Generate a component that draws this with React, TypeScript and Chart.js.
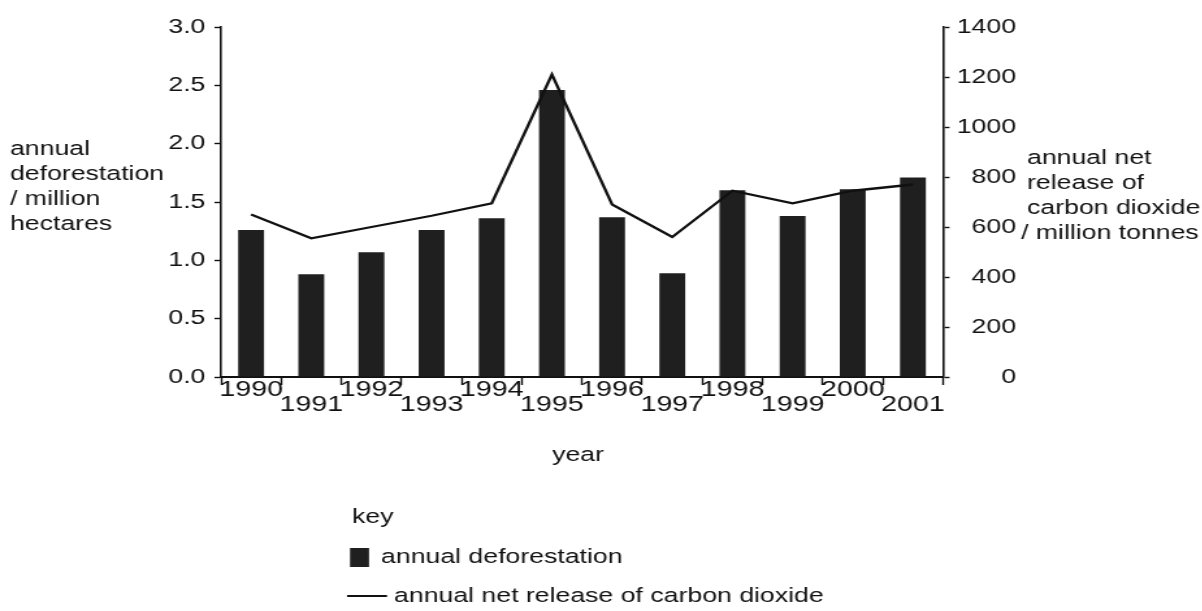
import React, { useEffect, useRef } from 'react';
import { Chart, registerables } from 'chart.js';

Chart.register(...registerables);

// ---- data ----
const years = ['1990', '1991', '1992', '1993', '1994', '1995', '1996', '1997', '1998', '1999', '2000', '2001'];
const deforestation = [1.26, 0.88, 1.07, 1.26, 1.36, 2.46, 1.37, 0.89, 1.6, 1.38, 1.61, 1.71];
const carbonRelease = [650, 555, 600, 645, 695, 1210, 690, 560, 745, 695, 745, 770];
const seriesLabels = ['annual deforestation', 'annual net release of carbon dioxide'];
const leftTitle = ['annual', 'deforestation', '/ million', 'hectares'];
const rightTitle = ['annual net', 'release of', 'carbon dioxide', '/ million tonnes'];
const xTitle = 'year';
const keyTitle = 'key';

// ---- layout / style ----
const S = 1.3; // horizontal stretch of the scanned figure
const W = 924;
const H = 611;
const INK = '#111111';
const BAR = '#1f1f1f';
const FONT = "'Liberation Sans', Arial, Helvetica, sans-serif";
const AREA_LEFT = 221 / S;
const AREA_RIGHT = 943 / S;
const RIGHT_LABEL_EDGE = 1016 / S;
const AREA_TOP = 27;
const AREA_BOTTOM = 377;

export default function App() {
  const ref = useRef<HTMLCanvasElement>(null);

  useEffect(() => {
    if (!ref.current) return;
    Chart.defaults.font.family = FONT;
    Chart.defaults.color = INK;

    const annotate = {
      id: 'annotate',
      afterDraw(chart: any) {
        const ctx = chart.ctx as CanvasRenderingContext2D;
        ctx.save();
        ctx.fillStyle = INK;
        ctx.font = `20.5px ${FONT}`;
        ctx.textBaseline = 'middle';
        ctx.textAlign = 'left';
        leftTitle.forEach((t, i) => ctx.fillText(t, 10 / S, 149 + i * 25));
        rightTitle.forEach((t, i) => {
          if (i === rightTitle.length - 1) {
            ctx.fillText(t, 1021 / S, 158 + i * 25, (1199 - 1021) / S);
          } else {
            ctx.fillText(t, 1027 / S, 158 + i * 25);
          }
        });
        ctx.textAlign = 'center';
        ctx.fillText(xTitle, 578 / S, 455);
        // key
        ctx.textAlign = 'left';
        ctx.fillText(keyTitle, 352 / S, 517);
        const ds0 = chart.data.datasets[0];
        const ds1 = chart.data.datasets[1];
        ctx.fillStyle = ds0.backgroundColor;
        ctx.fillRect(350 / S, 548, 19 / S, 19);
        ctx.fillStyle = INK;
        ctx.fillText(ds0.label, 381 / S, 557);
        ctx.strokeStyle = ds1.borderColor;
        ctx.lineWidth = 2;
        ctx.beginPath();
        ctx.moveTo(347 / S, 596);
        ctx.lineTo(387 / S, 596);
        ctx.stroke();
        ctx.fillText(ds1.label, 394 / S, 596);
        ctx.restore();
      },
    };

    const chart = new Chart(ref.current, {
      type: 'bar',
      data: {
        labels: years,
        datasets: [
          {
            type: 'bar',
            label: seriesLabels[0],
            data: deforestation,
            backgroundColor: BAR,
            borderWidth: 0,
            barPercentage: 0.43,
            categoryPercentage: 1,
            yAxisID: 'y',
            order: 2,
          },
          {
            type: 'line',
            label: seriesLabels[1],
            data: carbonRelease,
            borderColor: INK,
            backgroundColor: INK,
            borderWidth: 2.3,
            pointRadius: 0,
            tension: 0,
            fill: false,
            yAxisID: 'y1',
            order: 1,
          },
        ],
      },
      options: {
        animation: false,
        responsive: true,
        maintainAspectRatio: false,
        layout: { padding: { top: AREA_TOP, left: 0, right: W - RIGHT_LABEL_EDGE, bottom: 0 } },
        plugins: {
          legend: { display: false },
          tooltip: { enabled: false },
        },
        scales: {
          x: {
            type: 'category',
            offset: true,
            grid: {
              offset: true,
              drawOnChartArea: false,
              drawTicks: true,
              tickLength: 8,
              tickColor: INK,
              tickWidth: 1.4,
            },
            border: { display: true, color: INK, width: 2 },
            ticks: {
              autoSkip: false,
              maxRotation: 0,
              minRotation: 0,
              padding: -3,
              color: INK,
              font: { size: 22, family: FONT, lineHeight: '15px' },
              callback: (_v: any, i: number) => (i % 2 === 0 ? years[i] : ['', years[i]]),
            },
            afterFit: (s: any) => {
              s.height = H - AREA_BOTTOM;
            },
          },
          y: {
            position: 'left',
            min: 0,
            max: 3,
            grid: { drawOnChartArea: false, drawTicks: true, tickLength: 5, tickColor: INK, tickWidth: 1.4 },
            border: { display: true, color: INK, width: 1.6 },
            ticks: {
              stepSize: 0.5,
              padding: 7,
              color: INK,
              font: { size: 20.5, family: FONT },
              callback: (v: any) => Number(v).toFixed(1),
            },
            afterFit: (s: any) => {
              s.width = AREA_LEFT;
            },
          },
          y1: {
            position: 'right',
            min: 0,
            max: 1400,
            grid: { drawOnChartArea: false, drawTicks: true, tickLength: 5, tickColor: INK, tickWidth: 1.4 },
            border: { display: true, color: INK, width: 1.6 },
            ticks: {
              stepSize: 200,
              padding: 4,
              crossAlign: 'far',
              color: INK,
              font: { size: 20.5, family: FONT },
              callback: (v: any) => String(v),
            },
            afterFit: (s: any) => {
              s.width = RIGHT_LABEL_EDGE - AREA_RIGHT;
            },
          },
        },
      },
      plugins: [annotate],
    } as any);

    return () => chart.destroy();
  }, []);

  return (
    <div
      style={{
        position: 'absolute',
        left: 0,
        top: 0,
        width: 1202,
        height: H,
        overflow: 'hidden',
        background: '#ffffff',
      }}
    >
      <div
        style={{
          position: 'relative',
          width: W,
          height: H,
          transform: `scaleX(${S})`,
          transformOrigin: '0 0',
        }}
      >
        <canvas ref={ref} />
      </div>
    </div>
  );
}
